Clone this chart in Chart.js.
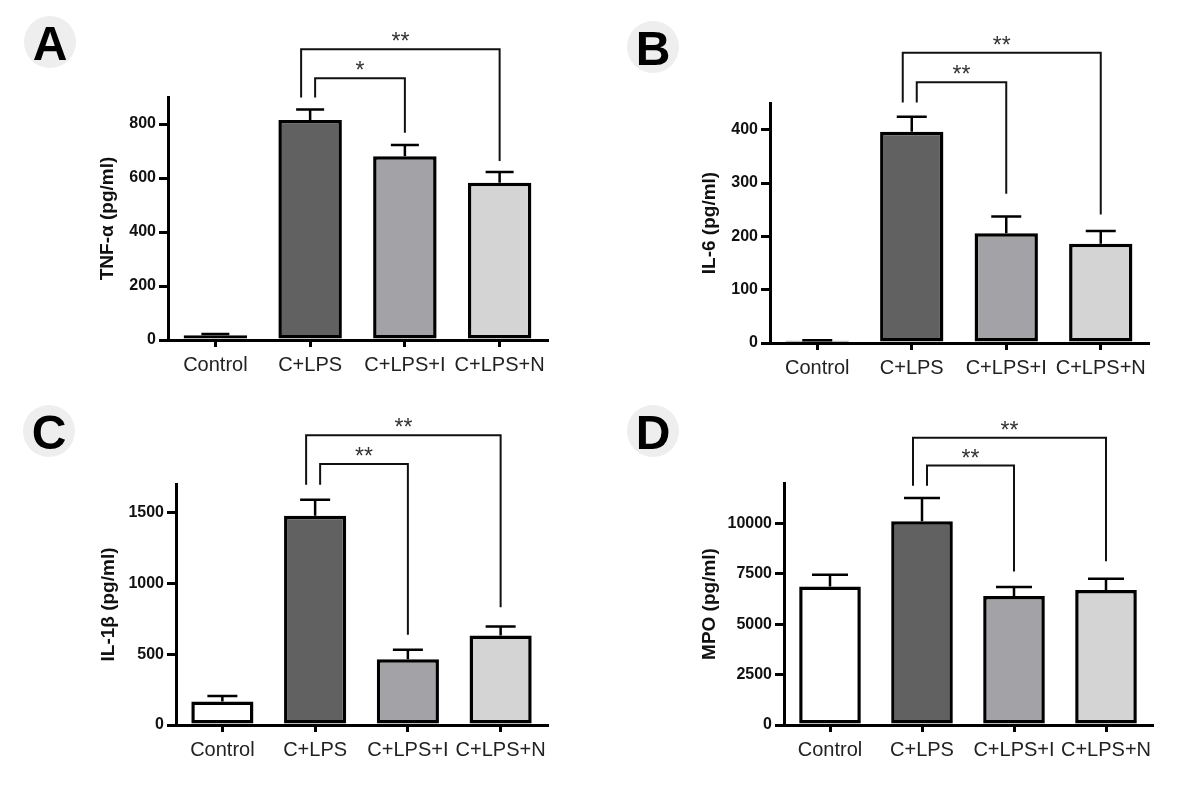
<!DOCTYPE html>
<html>
<head>
<meta charset="utf-8">
<script src="https://cdn.jsdelivr.net/npm/chart.js@4.4.1/dist/chart.umd.min.js"></script>
<style>
  body { margin: 0; background: #fff; }
  #wrap { position: relative; width: 1200px; height: 793px; overflow: hidden; }
  canvas { position: absolute; }
  .tag {
    position: absolute; width: 52px; height: 52px; border-radius: 50%;
    background: #eeeeee; color: #000; text-align: center; line-height: 54px;
    font: bold 48px "Liberation Sans", Arial, sans-serif;
  }
</style>
</head>
<body>
<div id="wrap">
  <canvas id="panelA" width="600" height="396" style="left:0;top:0"></canvas>
  <canvas id="panelB" width="600" height="396" style="left:600px;top:0"></canvas>
  <canvas id="panelC" width="600" height="397" style="left:0;top:396px"></canvas>
  <canvas id="panelD" width="600" height="397" style="left:600px;top:396px"></canvas>
  <div class="tag" style="left:24px;top:16px">A</div>
  <div class="tag" style="left:627px;top:21px">B</div>
  <div class="tag" style="left:23px;top:405px">C</div>
  <div class="tag" style="left:627px;top:405px">D</div>
</div>
<script>
Chart.defaults.font.family = "'Liberation Sans', Arial, sans-serif";
Chart.defaults.color = "#111";

// groups
var groups = ["Control", "C+LPS", "C+LPS+I", "C+LPS+N"];
var barColors = ["#ffffff", "#616161", "#a3a3a7", "#d4d4d4"];

// mean and SEM
var tnfMean = [18, 815, 681, 582];
var tnfSem = [4, 39, 41, 40];
var il6Mean = [4, 396, 206, 186];
var il6Sem = [1, 28, 31, 24];
var il1bMean = [165, 1476, 464, 631];
var il1bSem = [40, 113, 66, 64];
var mpoMean = [6870, 10099, 6392, 6689];
var mpoSem = [576, 1153, 445, 560];

// y ticks and axis tops
var tnfTicks = [0, 200, 400, 600, 800];
var il6Ticks = [0, 100, 200, 300, 400];
var il1bTicks = [0, 500, 1000, 1500];
var mpoTicks = [0, 2500, 5000, 7500, 10000];
var tnfMax = 900, il6Max = 450, il1bMax = 1700, mpoMax = 12000;

// significance brackets: group indexes, bracket level, where each leg stops
var tnfBrackets = [
  { from: 1, to: 2, level: 969, legFrom: 898, legTo: 768, mark: "*" },
  { from: 1, to: 3, level: 1077, legFrom: 898, legTo: 663, mark: "**" }
];
var il6Brackets = [
  { from: 1, to: 2, level: 489, legFrom: 451, legTo: 280, mark: "**" },
  { from: 1, to: 3, level: 544, legFrom: 451, legTo: 241, mark: "**" }
];
var il1bBrackets = [
  { from: 1, to: 2, level: 1841, legFrom: 1695, legTo: 636, mark: "**" },
  { from: 1, to: 3, level: 2044, legFrom: 1695, legTo: 831, mark: "**" }
];
var mpoBrackets = [
  { from: 1, to: 2, level: 12866, legFrom: 11862, legTo: 7611, mark: "**" },
  { from: 1, to: 3, level: 14250, legFrom: 11862, legTo: 8122, mark: "**" }
];

var LEG_SHIFT = [5, -9]; // inner bracket starts right of centre, outer left

var extras = {
  id: "extras",
  afterDatasetsDraw: function (chart, args, opts) {
    var ctx = chart.ctx, x = chart.scales.x, y = chart.scales.y;
    ctx.save();
    ctx.strokeStyle = "#000";
    ctx.lineWidth = 2.5;
    opts.means.forEach(function (m, i) {
      var cx = x.getPixelForValue(i);
      var base = y.getPixelForValue(m);
      var top = y.getPixelForValue(m + opts.sems[i]);
      ctx.beginPath();
      ctx.moveTo(cx, base);
      ctx.lineTo(cx, top);
      ctx.moveTo(cx - opts.cap / 2, top);
      ctx.lineTo(cx + opts.cap / 2, top);
      ctx.stroke();
    });
    ctx.lineWidth = 2;
    ctx.strokeStyle = "#111";
    ctx.fillStyle = "#333";
    ctx.font = "23px 'Liberation Sans', Arial, sans-serif";
    ctx.textAlign = "center";
    ctx.textBaseline = "alphabetic";
    opts.brackets.forEach(function (b, k) {
      var x1 = x.getPixelForValue(b.from) + LEG_SHIFT[k];
      var x2 = x.getPixelForValue(b.to);
      var yl = y.getPixelForValue(b.level);
      ctx.beginPath();
      ctx.moveTo(x1, y.getPixelForValue(b.legFrom));
      ctx.lineTo(x1, yl);
      ctx.lineTo(x2, yl);
      ctx.lineTo(x2, y.getPixelForValue(b.legTo));
      ctx.stroke();
      ctx.fillText(b.mark, (x1 + x2) / 2, yl);
    });
    ctx.restore();
  }
};

function makePanel(id, means, sems, ticks, max, label, brackets, box, cap) {
  var el = document.getElementById(id);
  var H = el.height;
  var titleSize = 19;
  var padLeft = box.titleX - titleSize * 1.2 / 2;
  new Chart(el, {
    type: "bar",
    data: {
      labels: groups,
      datasets: [{
        data: means,
        backgroundColor: barColors,
        borderColor: "#000",
        borderWidth: 3.5,
        borderSkipped: false,
        categoryPercentage: 1,
        barPercentage: 0.67
      }]
    },
    options: {
      responsive: false,
      animation: false,
      layout: { padding: { left: padLeft, top: box.top, right: 600 - box.right, bottom: 0 } },
      plugins: {
        legend: { display: false },
        tooltip: { enabled: false },
        extras: { means: means, sems: sems, brackets: brackets, cap: cap }
      },
      scales: {
        x: {
          offset: true,
          border: { display: true, color: "#000", width: 3 },
          grid: { offset: false, drawOnChartArea: false, drawTicks: true, tickLength: 7, lineWidth: 3, color: "#000" },
          ticks: { font: { size: 20 }, color: "#222", padding: 6, maxRotation: 0, autoSkip: false },
          afterFit: function (s) {
            s.height = H - box.bottom;
            s.paddingLeft = s.paddingRight = s.paddingTop = s.paddingBottom = 0;
          }
        },
        y: {
          min: 0,
          max: max,
          border: { display: true, color: "#000", width: 3 },
          grid: { drawOnChartArea: false, drawTicks: true, tickLength: 9, lineWidth: 3, color: "#000" },
          ticks: {
            font: { size: 16, weight: "bold" }, color: "#111", padding: 3, autoSkip: false,
            callback: function (v) { return String(v); }
          },
          afterBuildTicks: function (s) {
            s.ticks = ticks.map(function (v) { return { value: v }; });
          },
          title: {
            display: true,
            text: label,
            font: { size: titleSize, weight: "bold" },
            color: "#111",
            padding: 0
          },
          afterFit: function (s) {
            s.width = box.left - padLeft;
            s.paddingLeft = s.paddingRight = s.paddingTop = s.paddingBottom = 0;
          }
        }
      }
    },
    plugins: [extras]
  });
}

makePanel("panelA", tnfMean, tnfSem, tnfTicks, tnfMax, "TNF-\u03b1 (pg/ml)", tnfBrackets,
  { left: 168, right: 547, top: 97, bottom: 340, titleX: 108 }, 28);
makePanel("panelB", il6Mean, il6Sem, il6Ticks, il6Max, "IL-6 (pg/ml)", il6Brackets,
  { left: 170, right: 548, top: 103, bottom: 343, titleX: 110 }, 30);
makePanel("panelC", il1bMean, il1bSem, il1bTicks, il1bMax, "IL-1\u03b2 (pg/ml)", il1bBrackets,
  { left: 176, right: 547, top: 88, bottom: 329, titleX: 109 }, 30);
makePanel("panelD", mpoMean, mpoSem, mpoTicks, mpoMax, "MPO (pg/ml)", mpoBrackets,
  { left: 184, right: 552, top: 87, bottom: 329, titleX: 110 }, 36);
</script>
</body>
</html>
